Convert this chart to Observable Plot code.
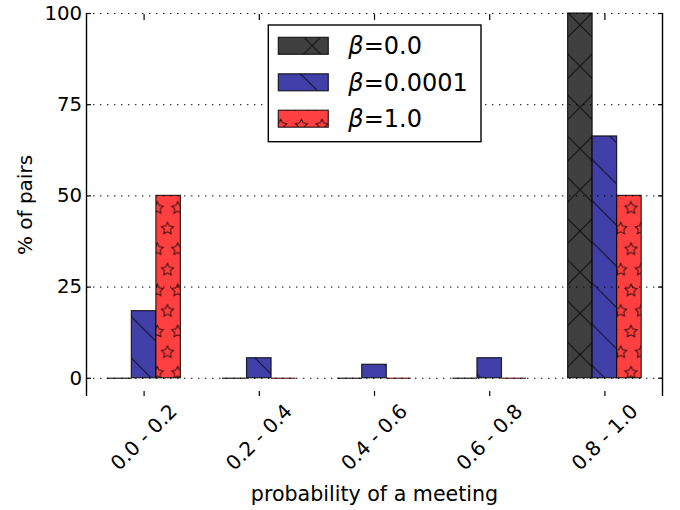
<!DOCTYPE html>
<html><head><meta charset="utf-8">
<script src="https://cdn.jsdelivr.net/npm/d3@7"></script>
<script src="https://cdn.jsdelivr.net/npm/@observablehq/plot@0.6"></script>
<style>
html,body{margin:0;padding:0;background:#fff}
#wrap{position:relative;width:680px;height:510px}
#wrap svg{position:absolute;left:0;top:0;display:block}
</style>
</head><body><div id="wrap"></div>
<script>
// ---- data ----
const categories = ["0.0 - 0.2", "0.2 - 0.4", "0.4 - 0.6", "0.6 - 0.8", "0.8 - 1.0"];
const seriesLabels = ["β=0.0", "β=0.0001", "β=1.0"];
const beta0 = [0, 0, 0, 0, 100];
const beta00001 = [18.4, 5.5, 3.7, 5.5, 66.3];
const beta1 = [50, 0, 0, 0, 50];
const yTicks = [0, 25, 50, 75, 100];
const xTitle = "probability of a meeting";
const yTitle = "% of pairs";

// ---- styles ----
const fills = ["#404040", "#4040a8", "#ff4040"];
const patIds = ["hatchX", "hatchB", "hatchS"];
const zeroColors = ["#2b2b2b", "#2b2b5a", "#6e2c2c"];
const barW = 0.213;
const font = "DejaVu Sans, sans-serif";

const seriesValues = [beta0, beta00001, beta1];
const table = seriesValues.flatMap((vals, j) => vals.map((v, i) => ({i, j, value: v})));
const x1 = d => d.i + (d.j - 1) * barW - barW / 2;
const x2 = d => d.i + (d.j - 1) * barW + barW / 2;
const xDomain = [-0.5, categories.length - 0.5];
const catIdx = categories.map((c, i) => i);

const barMarks = seriesValues.map((vals, j) =>
  Plot.rectY(table.filter(d => d.j === j && d.value > 0), {
    x1, x2, y1: 0, y2: "value",
    fill: `url(#${patIds[j]})`, stroke: "rgba(0,0,0,0.8)", strokeWidth: 1.2
  })
);

const svg = Plot.plot({
  width: 680, height: 510,
  marginLeft: 86, marginRight: 18, marginTop: 13, marginBottom: 114,
  style: {fontFamily: font, fontSize: "20px", color: "black", background: "white", overflow: "visible"},
  x: {domain: xDomain, label: null},
  y: {domain: [-5, 100], label: null},
  marks: [
    ...barMarks,
    Plot.ruleY(table.filter(d => d.value === 0), {x1, x2, y: 0, stroke: d => zeroColors[d.j], strokeWidth: 1.3}),
    Plot.gridY(yTicks, {stroke: "black", strokeOpacity: 1, strokeWidth: 1, strokeDasharray: "1.4,5.6"}),
    Plot.axisY(yTicks, {anchor: "left", tickSize: -5, tickPadding: 9.3, label: null, tickFormat: d => String(d), strokeWidth: 1.2, fontSize: 19.8}),
    Plot.axisY(yTicks, {anchor: "right", tickSize: -5, label: null, tickFormat: () => "", strokeWidth: 1.2}),
    Plot.axisX(catIdx, {anchor: "bottom", tickSize: -5, label: null, tickFormat: () => "", strokeWidth: 1.2}),
    Plot.axisX(catIdx, {anchor: "top", tickSize: -6, label: null, tickFormat: () => "", strokeWidth: 1.2}),
    Plot.ruleX(xDomain, {stroke: "black", strokeWidth: 1.4}),
    Plot.text(categories, {x: (d, i) => i, frameAnchor: "bottom", dy: 41, rotate: -45, textAnchor: "middle", lineAnchor: "middle", fontSize: 20}),
    Plot.text([yTitle], {frameAnchor: "left", dx: -61, rotate: -90, textAnchor: "middle", lineAnchor: "middle", fontSize: 20}),
    Plot.text([xTitle], {frameAnchor: "bottom", dy: 98, textAnchor: "middle", lineAnchor: "middle", fontSize: 20.6})
  ]
});

// ---- hatch patterns ----
const defs = d3.select(svg).insert("defs", ":first-child");
const s = 41.2;
const hatchStroke = "rgba(0,0,0,0.78)";
const px = defs.append("pattern").attr("id", patIds[0]).attr("patternUnits", "userSpaceOnUse")
  .attr("width", s).attr("height", s).attr("patternTransform", "translate(23.8,4.4)");
px.append("rect").attr("width", s).attr("height", s).attr("fill", fills[0]);
px.append("path").attr("d", `M-1,-1L${s+1},${s+1}M${s+1},-1L-1,${s+1}`).attr("stroke", hatchStroke).attr("stroke-width", 1).attr("fill", "none");
const pb = defs.append("pattern").attr("id", patIds[1]).attr("patternUnits", "userSpaceOnUse")
  .attr("width", s).attr("height", s).attr("patternTransform", "translate(20.6,0)");
pb.append("rect").attr("width", s).attr("height", s).attr("fill", fills[1]);
pb.append("path").attr("d", `M-1,-1L${s+1},${s+1}M${s-1},-1L${s+1},1M-1,${s-1}L1,${s+1}`).attr("stroke", hatchStroke).attr("stroke-width", 1).attr("fill", "none");
const o = s / 2;
function starPath(cx, cy, r) {
  const pts = [];
  for (let k = 0; k < 10; k++) {
    const a = -Math.PI / 2 + k * Math.PI / 5;
    const rr = k % 2 === 0 ? r : r * 0.5;
    pts.push([cx + rr * Math.cos(a), cy + rr * Math.sin(a)]);
  }
  return "M" + pts.map(p => p.join(",")).join("L") + "Z";
}
const ps = defs.append("pattern").attr("id", patIds[2]).attr("patternUnits", "userSpaceOnUse")
  .attr("width", o).attr("height", s).attr("patternTransform", "translate(2.7,32.9)");
ps.append("rect").attr("width", o).attr("height", s).attr("fill", fills[2]);
ps.append("path").attr("d", starPath(o / 2, o / 2, 6.4) + starPath(0, o * 1.5, 6.4) + starPath(o, o * 1.5, 6.4))
  .attr("stroke", hatchStroke).attr("stroke-width", 1).attr("fill", "none");

document.getElementById("wrap").append(svg);

// ---- legend ----
const leg = d3.create("svg").attr("width", 680).attr("height", 510).style("pointer-events", "none");
leg.append("rect").attr("x", 268.3).attr("y", 25).attr("width", 212.7).attr("height", 116.7)
  .attr("fill", "white").attr("stroke", "black").attr("stroke-width", 1.4);
const rowY = [37.3, 73.8, 110.2];
seriesLabels.forEach((lab, j) => {
  leg.append("rect").attr("x", 278.3).attr("y", rowY[j]).attr("width", 50).attr("height", 17)
    .attr("fill", `url(#${patIds[j]})`).attr("stroke", "rgba(0,0,0,0.8)").attr("stroke-width", 1.2);
  const t = leg.append("text").attr("x", 348.3).attr("y", rowY[j] + 17)
    .attr("font-family", font).attr("font-size", 24).attr("fill", "black");
  t.append("tspan").attr("font-style", "italic").text(lab.slice(0, 1));
  t.append("tspan").text(lab.slice(1));
});
document.getElementById("wrap").append(leg.node());
</script>
</body></html>
